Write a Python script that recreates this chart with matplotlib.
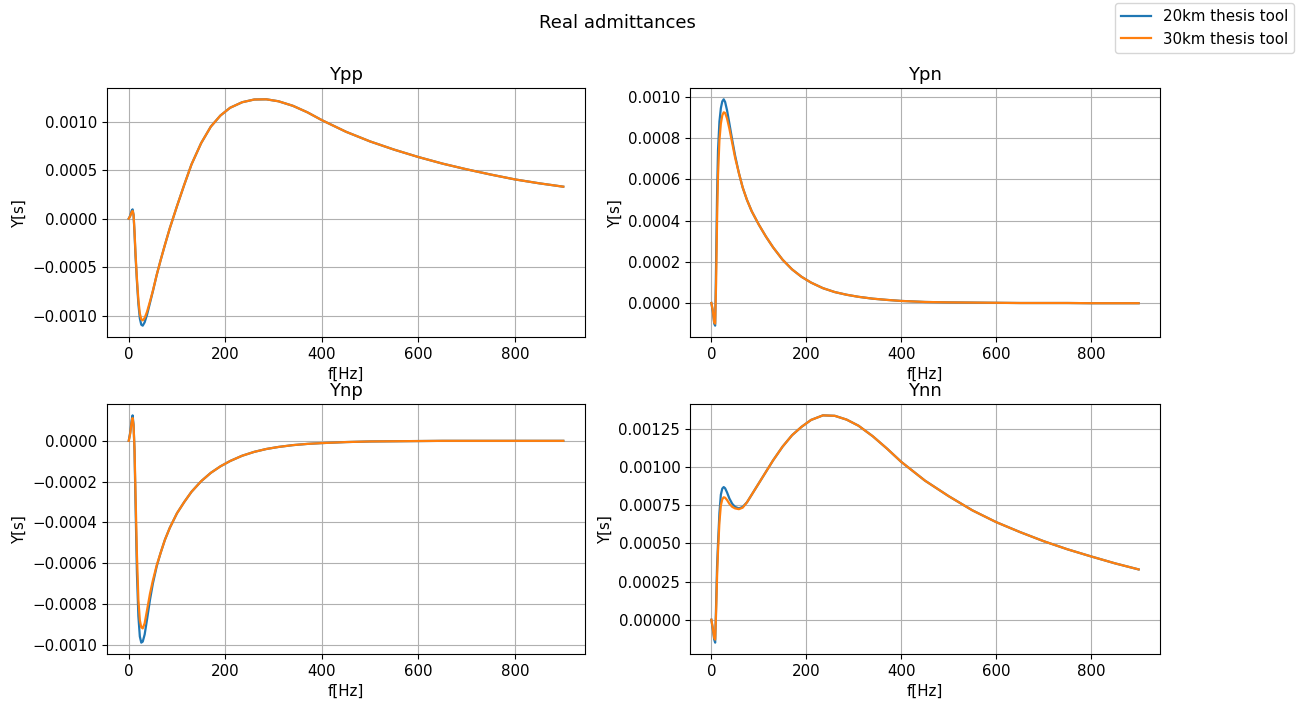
import numpy as np
import matplotlib
matplotlib.use("Agg")
import matplotlib.pyplot as plt
from matplotlib.ticker import MultipleLocator

plt.rcParams["font.size"] = 10.8
plt.rcParams["lines.linewidth"] = 1.6

# frequency points [Hz]
f = [0, 3, 6, 8, 10, 12, 14, 17, 20, 23, 26, 29, 33, 38, 44, 50, 58, 66, 75, 85,
     100, 115, 130, 150, 170, 190, 210, 235, 260, 285, 310, 340, 370, 400,
     450, 500, 550, 600, 650, 700, 750, 800, 850, 900]

# values in micro siemens (scaled below)
ypp_20 = [0, 30, 80, 96, 40, -150, -380, -650, -880, -1030, -1095, -1105, -1070, -990, -870, -750, -580, -430, -270, -100,
          130, 350, 560, 780, 950, 1065, 1145, 1202, 1230, 1232, 1212, 1165, 1098, 1017,
          897, 797, 712, 636, 568, 509, 455, 405, 365, 330]
ypp_30 = [0, 25, 65, 80, 40, -130, -350, -620, -840, -980, -1040, -1050, -1025, -960, -855, -745, -580, -430, -270, -100,
          130, 350, 560, 780, 950, 1065, 1145, 1202, 1230, 1232, 1212, 1165, 1098, 1017,
          897, 797, 712, 636, 568, 509, 455, 405, 365, 330]

ypn_20 = [0, -40, -100, -110, 200, 520, 740, 880, 945, 978, 988, 975, 935, 870, 790, 715, 630, 560, 500, 445,
          380, 322, 270, 210, 163, 127, 99, 72, 53, 40, 30, 21, 15, 10,
          5, 3, 2, 1, 0, 0, 0, -1, -1, -1]
ypn_30 = [0, -35, -95, -100, 100, 400, 620, 790, 870, 910, 925, 922, 895, 845, 775, 705, 630, 560, 500, 445,
          380, 322, 270, 210, 163, 127, 99, 72, 53, 40, 30, 21, 15, 10,
          5, 3, 2, 1, 0, 0, 0, -1, -1, -1]

ynp_20 = [0, 40, 100, 125, 80, -50, -300, -650, -860, -960, -990, -985, -950, -875, -780, -700, -615, -550, -485, -427,
          -355, -300, -250, -198, -157, -125, -99, -73, -54, -40, -30, -21, -15, -11,
          -6, -3, -2, -1, 0, 0, 0, 0, 0, 0]
ynp_30 = [0, 35, 90, 112, 75, -40, -250, -560, -780, -880, -915, -920, -895, -830, -750, -685, -610, -550, -485, -427,
          -355, -300, -250, -198, -157, -125, -99, -73, -54, -40, -30, -21, -15, -11,
          -6, -3, -2, -1, 0, 0, 0, 0, 0, 0]

ynn_20 = [0, -60, -130, -150, 100, 350, 500, 700, 820, 860, 870, 862, 835, 795, 760, 740, 730, 740, 770, 820,
          895, 970, 1045, 1135, 1210, 1265, 1310, 1340, 1337, 1312, 1272, 1203, 1122, 1035,
          912, 810, 717, 640, 575, 515, 462, 415, 370, 330]
ynn_30 = [0, -55, -120, -130, 50, 280, 450, 640, 750, 790, 803, 800, 785, 760, 740, 730, 725, 735, 770, 820,
          895, 970, 1045, 1135, 1210, 1265, 1310, 1340, 1337, 1312, 1272, 1203, 1122, 1035,
          912, 810, 717, 640, 575, 515, 462, 415, 370, 330]

titles = ["Ypp", "Ypn", "Ynp", "Ynn"]
series = [(ypp_20, ypp_30), (ypn_20, ypn_30), (ynp_20, ynp_30), (ynn_20, ynn_30)]
labels = ["20km thesis tool", "30km thesis tool"]

W, H = 1303, 704
fig, axs = plt.subplots(2, 2, figsize=(W / 100, H / 100), dpi=100)

# axes boxes in pixels: left, top, right, bottom
boxes = [(107, 88, 585, 337), (690, 88, 1160, 337),
         (107, 404, 585, 654), (690, 404, 1160, 654)]

for ax, box, title, (a, b) in zip(axs.flat, boxes, titles, series):
    l, t, r, btm = box
    ax.set_position([l / W, 1 - btm / H, (r - l) / W, (btm - t) / H])
    ax.plot(f, np.array(a) * 1e-6, label=labels[0])
    ax.plot(f, np.array(b) * 1e-6, label=labels[1])
    ax.set_title(title)
    ax.set_xlabel("f[Hz]")
    ax.set_ylabel("Y[s]")
    ax.grid(True)

axs[1, 1].yaxis.set_major_locator(MultipleLocator(0.00025))

fig.suptitle("Real admittances", x=617 / W, y=0.98)
handles, labs = axs[0, 0].get_legend_handles_labels()
fig.legend(handles, labs, loc="upper right", bbox_to_anchor=(1294 / W, 1 - 3 / H), borderaxespad=0)

fig.savefig("out.png", dpi=100)
